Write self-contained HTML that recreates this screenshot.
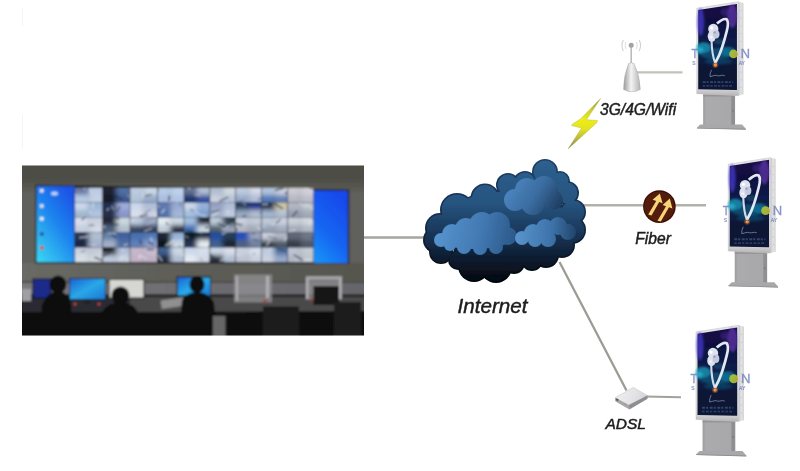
<!DOCTYPE html>
<html><head><meta charset="utf-8">
<style>
html,body{margin:0;padding:0;background:#fff;}
body{width:800px;height:471px;overflow:hidden;position:relative;font-family:"Liberation Sans",sans-serif;}
svg.main{position:absolute;left:0;top:0;}
</style></head>
<body>
<svg class="main" width="800" height="471" viewBox="0 0 800 471">
<defs>

<filter id="b05" x="-10%" y="-10%" width="120%" height="120%"><feGaussianBlur stdDeviation="0.5"/></filter>
<filter id="b1" x="-10%" y="-10%" width="120%" height="120%"><feGaussianBlur stdDeviation="0.7"/></filter>
<filter id="b2" x="-10%" y="-10%" width="120%" height="120%"><feGaussianBlur stdDeviation="1.1"/></filter>
<filter id="b3" x="-30%" y="-30%" width="160%" height="160%"><feGaussianBlur stdDeviation="2"/></filter>
<linearGradient id="lblue" x1="0" y1="0" x2="0.35" y2="1">
  <stop offset="0" stop-color="#1d5fe4"/><stop offset="0.55" stop-color="#2a8cf0"/><stop offset="1" stop-color="#55ccf0"/>
</linearGradient>
<linearGradient id="rblue" x1="0" y1="0" x2="0.2" y2="1">
  <stop offset="0" stop-color="#1a52de"/><stop offset="1" stop-color="#2a8af0"/>
</linearGradient>
<linearGradient id="mon2" x1="0" y1="0" x2="1" y2="1">
  <stop offset="0" stop-color="#1a64d4"/><stop offset="0.5" stop-color="#2aa8e8"/><stop offset="1" stop-color="#1a78d4"/>
</linearGradient>
<linearGradient id="scr" x1="0" y1="0" x2="0" y2="1">
  <stop offset="0" stop-color="#1a1048"/><stop offset="0.2" stop-color="#10103e"/><stop offset="0.42" stop-color="#0e1a48"/><stop offset="0.6" stop-color="#0c2044"/><stop offset="0.75" stop-color="#0a1634"/><stop offset="1" stop-color="#0a1430"/>
</linearGradient>
<linearGradient id="stand" x1="0" y1="0" x2="1" y2="0">
  <stop offset="0" stop-color="#9c9c9e"/><stop offset="0.1" stop-color="#ababad"/><stop offset="0.86" stop-color="#a8a8aa"/><stop offset="0.9" stop-color="#8e8e90"/><stop offset="1" stop-color="#909092"/>
</linearGradient>
<linearGradient id="frm" x1="0" y1="0" x2="0" y2="1">
  <stop offset="0" stop-color="#e4e4e6"/><stop offset="0.85" stop-color="#dcdcde"/><stop offset="0.94" stop-color="#cfcfd1"/><stop offset="1" stop-color="#b4b4b6"/>
</linearGradient>
<linearGradient id="side" x1="0" y1="0" x2="1" y2="0">
  <stop offset="0" stop-color="#c8c8ca"/><stop offset="0.5" stop-color="#e4e4e6"/><stop offset="1" stop-color="#cfcfd1"/>
</linearGradient>
<linearGradient id="bolt" gradientUnits="userSpaceOnUse" x1="0" y1="98" x2="0" y2="149">
  <stop offset="0" stop-color="#707a50"/><stop offset="0.22" stop-color="#c8cc30"/><stop offset="0.42" stop-color="#ecec18"/><stop offset="0.6" stop-color="#e4e420"/><stop offset="0.8" stop-color="#b8b840"/><stop offset="1" stop-color="#707060"/>
</linearGradient>
<linearGradient id="cone" x1="0" y1="0" x2="1" y2="0">
  <stop offset="0" stop-color="#9a9a9a"/><stop offset="0.45" stop-color="#f4f4f4"/><stop offset="1" stop-color="#b4b4b4"/>
</linearGradient>


<g id="kiosk">
  <rect x="6.5" y="86.5" width="32.4" height="33.5" fill="url(#stand)"/>
  <rect x="6.5" y="88" width="32.4" height="1.6" fill="#949496"/>
  <polygon points="42.3,-6.6 47.4,-5.4 47.4,87.4 42.3,88.8" fill="url(#side)"/>
  <line x1="44.9" y1="2" x2="44.9" y2="82" stroke="#a8a8ac" stroke-width="0.7" stroke-dasharray="0.8 7"/>
  <polygon points="0,0 42.3,-6.6 42.3,88.8 0,86.7" fill="url(#frm)"/>
  <polygon points="0,0 42.3,-6.6 42.3,88.8 0,86.7" fill="none" stroke="#c0c0c4" stroke-width="0.5"/>
  <polygon points="1.5,1.85 40.8,-4.4 40.8,83 1.5,82.3" fill="url(#scr)"/>
  <g filter="url(#b2)">
    <ellipse cx="4" cy="14" rx="3.5" ry="14" fill="#4a3ad8" opacity="0.7"/>
    <ellipse cx="36" cy="8" rx="5" ry="12" fill="#7a44cc" opacity="0.55"/>
    <ellipse cx="29" cy="4" rx="5" ry="4" fill="#4a2a9a" opacity="0.45"/>
    <ellipse cx="7" cy="40" rx="7.5" ry="5.5" fill="#1ea8c8" opacity="0.7"/>
    <ellipse cx="3.5" cy="43" rx="3.5" ry="3.5" fill="#28c4dc" opacity="0.6"/>
    <ellipse cx="31" cy="44" rx="8" ry="5" fill="#1a98b8" opacity="0.55"/>
    <ellipse cx="20" cy="46" rx="17" ry="6" fill="#1478a0" opacity="0.45"/><ellipse cx="22" cy="54" rx="14" ry="3" fill="#106a90" opacity="0.4"/>
    <ellipse cx="23" cy="34" rx="6" ry="3" fill="#12607e" opacity="0.5"/>
  </g>
  <g filter="url(#b05)">
    <path d="M15,32 C15.2,41 16.2,49.5 18.7,55.5" stroke="#d4dcea" stroke-width="2.1" fill="none"/>
    <path d="M20.5,15.5 C24,12.5 28,10 30.3,11.2 C32,13 31.8,18 30.5,23 C29,29 26,40 22.8,47.4 C21.5,50.5 20,53 18.7,55.5" stroke="#e2e8f4" stroke-width="2.7" fill="none"/>
    <g fill="#dde2ee">
      <ellipse cx="16.8" cy="21" rx="5.2" ry="5.2" />
      <ellipse cx="15.3" cy="28.5" rx="4.2" ry="5.5"/>
      <ellipse cx="19.8" cy="26.5" rx="3.3" ry="4.2" fill="#c4cadc"/>
    </g>
    <circle cx="15" cy="20" r="1.6" fill="#ffffff"/>
    <circle cx="18.2" cy="24.5" r="1.2" fill="#9aa2bc"/>
    <circle cx="14.6" cy="29.5" r="1.3" fill="#f4f6fa"/>
    <circle cx="18.9" cy="57.6" r="1.7" fill="#ff9040"/><circle cx="18.9" cy="57.6" r="3" fill="#ff9040" opacity="0.3"/>
    <path d="M15,62.5 q-2,4 -1.5,7 q3,-1 6,-1.5 q2,1 4,0.5 q3,-1 5,0" stroke="#8090b8" stroke-width="0.9" fill="none" opacity="0.85"/>
    <path d="M6,75 h31" stroke="#3c4c7c" stroke-width="2" stroke-dasharray="3 1 2 1.5" opacity="0.85"/>
    <path d="M6,78.8 h31" stroke="#34446e" stroke-width="1.8" stroke-dasharray="2.5 1.2 3 1" opacity="0.8"/>
  </g>
  <rect x="36.2" y="103" width="1" height="2" fill="#707070"/>
  <polygon points="3.5,118 46,118 49.8,122.3 49.8,123.2 0.2,121.8 0.2,121.2" fill="#a8a8aa"/>
  <polygon points="0.2,121.2 49.8,122.4 49.8,123.3 0.2,122" fill="#8e8e90"/>
  <g fill="#7482bc" stroke="#7482bc" stroke-width="0.35" opacity="0.85" font-family="Liberation Sans">
    <text x="0" y="0" font-size="13" transform="translate(-5.4 50.3) scale(0.85 1)">T</text>
    <text x="44.6" y="50.3" font-size="13">N</text>
    <text x="-4.6" y="57.5" font-size="5" stroke-width="0.2">S</text>
    <text x="42.6" y="57.5" font-size="5" stroke-width="0.2">AY</text>
  </g>
  <circle cx="37.3" cy="46.4" r="4.4" fill="#b0c438" opacity="0.9"/>
  <circle cx="40" cy="47" r="1.3" fill="#e09030" opacity="0.8"/>
</g>

<clipPath id="phclip"><rect x="22" y="165.6" width="342" height="170"/></clipPath>
<linearGradient id="topw" x1="0" y1="0" x2="0" y2="1"><stop offset="0" stop-color="#4a4a41"/><stop offset="0.7" stop-color="#4f4f47"/><stop offset="1" stop-color="#61615c"/></linearGradient>
<linearGradient id="wb1" gradientUnits="userSpaceOnUse" x1="22" y1="0" x2="364" y2="0"><stop offset="0" stop-color="#6a6a66"/><stop offset="0.45" stop-color="#5e5e58"/><stop offset="1" stop-color="#56574f"/></linearGradient>
<linearGradient id="wb2" gradientUnits="userSpaceOnUse" x1="22" y1="0" x2="364" y2="0"><stop offset="0" stop-color="#7a7a7c"/><stop offset="0.45" stop-color="#6e6e72"/><stop offset="1" stop-color="#65656c"/></linearGradient>
<linearGradient id="lb2" x1="0.8" y1="0" x2="0.1" y2="1"><stop offset="0" stop-color="#1c52e6"/><stop offset="0.45" stop-color="#1e84ee"/><stop offset="1" stop-color="#38d4f2"/></linearGradient>
<linearGradient id="rb2" x1="0.7" y1="0" x2="0.2" y2="1"><stop offset="0" stop-color="#1248ec"/><stop offset="0.6" stop-color="#1266f2"/><stop offset="1" stop-color="#1890f6"/></linearGradient>
<linearGradient id="cg" gradientUnits="userSpaceOnUse" x1="0" y1="160" x2="0" y2="283"><stop offset="0" stop-color="#2e5f8e"/><stop offset="0.35" stop-color="#27547f"/><stop offset="0.62" stop-color="#173354"/><stop offset="0.82" stop-color="#0c1a2c"/><stop offset="1" stop-color="#03070d"/></linearGradient><linearGradient id="cgr" gradientUnits="userSpaceOnUse" x1="0" y1="160" x2="0" y2="283"><stop offset="0" stop-color="#1c4064"/><stop offset="0.5" stop-color="#12294a"/><stop offset="1" stop-color="#010306"/></linearGradient><linearGradient id="pl" gradientUnits="userSpaceOnUse" x1="434" y1="228" x2="517" y2="245"><stop offset="0" stop-color="#5895d0"/><stop offset="0.55" stop-color="#4279b2"/><stop offset="1" stop-color="#2a5686"/></linearGradient><linearGradient id="pu" gradientUnits="userSpaceOnUse" x1="508" y1="182" x2="560" y2="215"><stop offset="0" stop-color="#4e88c2"/><stop offset="0.5" stop-color="#3a6ca0"/><stop offset="1" stop-color="#1a3556"/></linearGradient><linearGradient id="pr" gradientUnits="userSpaceOnUse" x1="516" y1="232" x2="576" y2="236"><stop offset="0" stop-color="#5894ce"/><stop offset="0.6" stop-color="#3d72a8"/><stop offset="1" stop-color="#22446a"/></linearGradient>
<linearGradient id="adt" gradientUnits="userSpaceOnUse" x1="615" y1="390" x2="648" y2="404"><stop offset="0" stop-color="#f0f0f2"/><stop offset="0.6" stop-color="#e2e2e4"/><stop offset="1" stop-color="#cfcfd2"/></linearGradient>
</defs>
<rect x="22" y="8" width="1" height="18" fill="#f5f5ec"/><rect x="22" y="115" width="1" height="33" fill="#f5f5ec"/>
<g filter="url(#b05)">
<line x1="364" y1="237.5" x2="425" y2="237.5" stroke="#a6a69e" stroke-width="2.6"/>
<line x1="580" y1="205.3" x2="706" y2="205.3" stroke="#b2b2aa" stroke-width="2.4"/>
<line x1="559.5" y1="262" x2="626.5" y2="390.5" stroke="#9c9c94" stroke-width="2.3"/>
<line x1="645" y1="396.5" x2="681" y2="397.3" stroke="#a2a29a" stroke-width="2.1"/>
<line x1="636" y1="72.3" x2="682.5" y2="72.3" stroke="#c2c2ba" stroke-width="2.2"/>
</g>
<g filter="url(#b05)"><g clip-path="url(#phclip)"><g filter="url(#b2)"><rect x="10" y="150" width="370" height="200" fill="#61615c"/><rect x="10" y="150" width="370" height="44" fill="url(#topw)"/><rect x="10" y="263" width="370" height="18.5" fill="url(#wb1)"/><rect x="10" y="281.5" width="370" height="1.6" fill="#4a4640"/><rect x="10" y="283" width="370" height="11" fill="url(#wb2)"/><rect x="10" y="294" width="370" height="2" fill="#303030"/><polygon points="35.3,184.8 349.3,189.6 349.3,263.8 35.3,263.5" fill="#1e1e24"/><rect x="36.5" y="186.2" width="38" height="76" fill="url(#lb2)"/><polygon points="313.6,190.5 347.8,190.7 347.8,262.9 313.6,262.9" fill="url(#rb2)"/><circle cx="41.8" cy="190.8" r="2" fill="#f0e8e0"/><circle cx="41.8" cy="206" r="2" fill="#e0e8f8"/><circle cx="41.8" cy="218.8" r="2" fill="#f0f4f8"/><circle cx="41.8" cy="234" r="2" fill="#30409a"/><circle cx="41.8" cy="247.7" r="2" fill="#e04a3a"/><ellipse cx="54.5" cy="193.5" rx="3.5" ry="2" fill="#d8e4f8" opacity="0.85"/><svg x="75" y="187.5" width="238.5" height="75" overflow="hidden"><g transform="translate(-75 -187.5)"><svg x="74.70" y="187.50" width="28.00" height="15.00" overflow="hidden"><g filter="url(#b3)" transform="translate(-74.70 -187.50)"><rect x="71.7" y="184.5" width="17.0" height="10.5" fill="#6878a0"/><rect x="88.7" y="184.5" width="17.0" height="10.5" fill="#becbe5"/><rect x="71.7" y="195.0" width="17.0" height="10.5" fill="#b7cbe5"/><rect x="88.7" y="195.0" width="17.0" height="10.5" fill="#c4d1e5"/></g><line x1="9.1" y1="2.3" x2="12.1" y2="-2.9" stroke="#e8eef6" stroke-width="1.2" opacity="0.6"/><line x1="1.6" y1="7.6" x2="-7.6" y2="6.8" stroke="#e8eef6" stroke-width="1.0" opacity="0.6"/><line x1="15.4" y1="0.9" x2="16.7" y2="6.3" stroke="#e8eef6" stroke-width="1.4" opacity="0.6"/></svg><svg x="74.70" y="202.50" width="28.00" height="15.00" overflow="hidden"><g filter="url(#b3)" transform="translate(-74.70 -202.50)"><rect x="71.7" y="199.5" width="17.0" height="10.5" fill="#cbd8ec"/><rect x="88.7" y="199.5" width="17.0" height="10.5" fill="#9fb7d8"/><rect x="71.7" y="210.0" width="17.0" height="10.5" fill="#a3b7d1"/><rect x="88.7" y="210.0" width="17.0" height="10.5" fill="#b1c4df"/></g><line x1="11.1" y1="14.6" x2="2.0" y2="18.9" stroke="#1a2030" stroke-width="1.2" opacity="0.6"/><line x1="15.1" y1="8.6" x2="16.3" y2="10.7" stroke="#e8eef6" stroke-width="1.4" opacity="0.6"/><line x1="17.9" y1="5.6" x2="18.8" y2="0.3" stroke="#e8eef6" stroke-width="1.4" opacity="0.6"/></svg><svg x="74.70" y="217.50" width="28.00" height="15.00" overflow="hidden"><g filter="url(#b3)" transform="translate(-74.70 -217.50)"><rect x="71.7" y="214.5" width="17.0" height="10.5" fill="#d8dfec"/><rect x="88.7" y="214.5" width="17.0" height="10.5" fill="#cbd1df"/><rect x="71.7" y="225.0" width="17.0" height="10.5" fill="#c4cedf"/><rect x="88.7" y="225.0" width="17.0" height="10.5" fill="#d1d8e5"/></g><line x1="13.9" y1="8.0" x2="19.4" y2="7.6" stroke="#202a40" stroke-width="1.2" opacity="0.6"/><line x1="7.0" y1="2.7" x2="12.6" y2="-2.3" stroke="#1a2030" stroke-width="1.3" opacity="0.6"/><line x1="24.5" y1="10.9" x2="20.3" y2="16.7" stroke="#e8eef6" stroke-width="1.3" opacity="0.6"/></svg><svg x="74.70" y="232.50" width="28.00" height="15.00" overflow="hidden"><g filter="url(#b3)" transform="translate(-74.70 -232.50)"><rect x="71.7" y="229.5" width="17.0" height="10.5" fill="#283651"/><rect x="88.7" y="229.5" width="17.0" height="10.5" fill="#b1bed1"/><rect x="71.7" y="240.0" width="17.0" height="10.5" fill="#1b2844"/><rect x="88.7" y="240.0" width="17.0" height="10.5" fill="#a3b1cb"/></g><line x1="4.6" y1="5.1" x2="13.3" y2="4.2" stroke="#e8eef6" stroke-width="1.6" opacity="0.6"/><line x1="16.0" y1="13.1" x2="12.3" y2="15.5" stroke="#202a40" stroke-width="1.4" opacity="0.6"/><line x1="12.8" y1="12.6" x2="21.7" y2="12.3" stroke="#e8eef6" stroke-width="0.9" opacity="0.6"/></svg><svg x="74.70" y="247.50" width="28.00" height="15.00" overflow="hidden"><g filter="url(#b3)" transform="translate(-74.70 -247.50)"><rect x="71.7" y="244.5" width="17.0" height="10.5" fill="#cbd1df"/><rect x="88.7" y="244.5" width="17.0" height="10.5" fill="#c4cbd8"/><rect x="71.7" y="255.0" width="17.0" height="10.5" fill="#d8dfe5"/><rect x="88.7" y="255.0" width="17.0" height="10.5" fill="#d1d8df"/></g><line x1="19.6" y1="9.7" x2="29.5" y2="13.6" stroke="#1a2030" stroke-width="1.5" opacity="0.6"/><line x1="24.8" y1="5.2" x2="33.7" y2="3.5" stroke="#e8eef6" stroke-width="1.3" opacity="0.6"/><line x1="6.1" y1="4.3" x2="10.9" y2="3.1" stroke="#202a40" stroke-width="0.9" opacity="0.6"/></svg><svg x="102.70" y="187.50" width="27.30" height="15.00" overflow="hidden"><g filter="url(#b3)" transform="translate(-102.70 -187.50)"><rect x="99.7" y="184.5" width="16.6" height="10.5" fill="#1b222f"/><rect x="116.3" y="184.5" width="16.7" height="10.5" fill="#5070a0"/><rect x="99.7" y="195.0" width="16.6" height="10.5" fill="#161b28"/><rect x="116.3" y="195.0" width="16.7" height="10.5" fill="#405890"/></g><line x1="12.3" y1="8.2" x2="19.9" y2="12.1" stroke="#1a2030" stroke-width="1.5" opacity="0.6"/><line x1="26.9" y1="10.2" x2="24.5" y2="7.0" stroke="#e8eef6" stroke-width="1.0" opacity="0.6"/><line x1="6.3" y1="3.5" x2="6.0" y2="4.6" stroke="#1a2030" stroke-width="1.1" opacity="0.6"/></svg><svg x="102.70" y="202.50" width="27.30" height="15.00" overflow="hidden"><g filter="url(#b3)" transform="translate(-102.70 -202.50)"><rect x="99.7" y="199.5" width="16.6" height="10.5" fill="#232f51"/><rect x="116.3" y="199.5" width="16.7" height="10.5" fill="#9daad8"/><rect x="99.7" y="210.0" width="16.6" height="10.5" fill="#282f4a"/><rect x="116.3" y="210.0" width="16.7" height="10.5" fill="#8996cb"/></g><line x1="4.0" y1="8.0" x2="6.2" y2="5.8" stroke="#e0e8f4" stroke-width="1.5" opacity="0.6"/><line x1="14.1" y1="9.3" x2="17.6" y2="3.9" stroke="#202a40" stroke-width="1.2" opacity="0.6"/><line x1="10.8" y1="7.2" x2="8.8" y2="3.5" stroke="#e0e8f4" stroke-width="1.2" opacity="0.6"/></svg><svg x="102.70" y="217.50" width="27.30" height="15.00" overflow="hidden"><g filter="url(#b3)" transform="translate(-102.70 -217.50)"><rect x="99.7" y="214.5" width="16.6" height="10.5" fill="#222836"/><rect x="116.3" y="214.5" width="16.7" height="10.5" fill="#cbd8df"/><rect x="99.7" y="225.0" width="16.6" height="10.5" fill="#506080"/><rect x="116.3" y="225.0" width="16.7" height="10.5" fill="#b1becb"/></g><line x1="3.0" y1="9.0" x2="-5.0" y2="9.8" stroke="#e8eef6" stroke-width="1.7" opacity="0.6"/><line x1="16.8" y1="1.1" x2="10.9" y2="-0.4" stroke="#1a2030" stroke-width="1.8" opacity="0.6"/><line x1="16.4" y1="7.1" x2="8.7" y2="7.0" stroke="#202a40" stroke-width="1.3" opacity="0.6"/></svg><svg x="102.70" y="232.50" width="27.30" height="15.00" overflow="hidden"><g filter="url(#b3)" transform="translate(-102.70 -232.50)"><rect x="99.7" y="229.5" width="16.6" height="10.5" fill="#6080a8"/><rect x="116.3" y="229.5" width="16.7" height="10.5" fill="#4060a0"/><rect x="99.7" y="240.0" width="16.6" height="10.5" fill="#a3b1cb"/><rect x="116.3" y="240.0" width="16.7" height="10.5" fill="#5070a0"/></g><line x1="8.5" y1="2.2" x2="13.5" y2="5.0" stroke="#202a40" stroke-width="1.6" opacity="0.6"/><line x1="4.4" y1="0.3" x2="13.4" y2="0.7" stroke="#e0e8f4" stroke-width="1.5" opacity="0.6"/><line x1="25.0" y1="11.4" x2="20.9" y2="13.1" stroke="#e8eef6" stroke-width="1.5" opacity="0.6"/></svg><svg x="102.70" y="247.50" width="27.30" height="15.00" overflow="hidden"><g filter="url(#b3)" transform="translate(-102.70 -247.50)"><rect x="99.7" y="244.5" width="16.6" height="10.5" fill="#1b2228"/><rect x="116.3" y="244.5" width="16.7" height="10.5" fill="#b1bed8"/><rect x="99.7" y="255.0" width="16.6" height="10.5" fill="#becbdf"/><rect x="116.3" y="255.0" width="16.7" height="10.5" fill="#cbd1df"/></g><line x1="7.1" y1="5.5" x2="0.5" y2="8.8" stroke="#1a2030" stroke-width="1.4" opacity="0.6"/><line x1="16.7" y1="11.8" x2="21.9" y2="8.2" stroke="#e0e8f4" stroke-width="1.6" opacity="0.6"/><line x1="20.2" y1="3.4" x2="20.6" y2="1.7" stroke="#e8eef6" stroke-width="1.8" opacity="0.6"/></svg><svg x="130.00" y="187.50" width="27.40" height="15.00" overflow="hidden"><g filter="url(#b3)" transform="translate(-130.00 -187.50)"><rect x="127.0" y="184.5" width="16.7" height="10.5" fill="#becbdf"/><rect x="143.7" y="184.5" width="16.7" height="10.5" fill="#cbd8e5"/><rect x="127.0" y="195.0" width="16.7" height="10.5" fill="#b1c4d8"/><rect x="143.7" y="195.0" width="16.7" height="10.5" fill="#96aacb"/></g><line x1="21.6" y1="7.1" x2="15.5" y2="8.3" stroke="#1a2030" stroke-width="1.2" opacity="0.6"/><line x1="25.7" y1="14.8" x2="34.8" y2="13.2" stroke="#e0e8f4" stroke-width="0.9" opacity="0.6"/><line x1="12.9" y1="5.1" x2="12.5" y2="10.9" stroke="#e8eef6" stroke-width="1.3" opacity="0.6"/></svg><svg x="130.00" y="202.50" width="27.40" height="15.00" overflow="hidden"><g filter="url(#b3)" transform="translate(-130.00 -202.50)"><rect x="127.0" y="199.5" width="16.7" height="10.5" fill="#cbd8ec"/><rect x="143.7" y="199.5" width="16.7" height="10.5" fill="#b1bed8"/><rect x="127.0" y="210.0" width="16.7" height="10.5" fill="#d8dfec"/><rect x="143.7" y="210.0" width="16.7" height="10.5" fill="#cbd1e5"/></g><line x1="17.9" y1="12.0" x2="9.6" y2="13.9" stroke="#202a40" stroke-width="1.6" opacity="0.6"/><line x1="20.6" y1="7.2" x2="14.1" y2="10.6" stroke="#1a2030" stroke-width="0.9" opacity="0.6"/><line x1="25.9" y1="10.8" x2="25.2" y2="13.7" stroke="#e8eef6" stroke-width="1.5" opacity="0.6"/></svg><svg x="130.00" y="217.50" width="27.40" height="15.00" overflow="hidden"><g filter="url(#b3)" transform="translate(-130.00 -217.50)"><rect x="127.0" y="214.5" width="16.7" height="10.5" fill="#becbdf"/><rect x="143.7" y="214.5" width="16.7" height="10.5" fill="#96a3be"/><rect x="127.0" y="225.0" width="16.7" height="10.5" fill="#36445f"/><rect x="143.7" y="225.0" width="16.7" height="10.5" fill="#313d58"/></g><line x1="4.7" y1="1.9" x2="-2.3" y2="6.8" stroke="#e0e8f4" stroke-width="1.4" opacity="0.6"/><line x1="16.3" y1="7.1" x2="25.1" y2="3.0" stroke="#e0e8f4" stroke-width="0.8" opacity="0.6"/><line x1="21.9" y1="10.9" x2="14.0" y2="13.9" stroke="#e0e8f4" stroke-width="1.2" opacity="0.6"/></svg><svg x="130.00" y="232.50" width="27.40" height="15.00" overflow="hidden"><g filter="url(#b3)" transform="translate(-130.00 -232.50)"><rect x="127.0" y="229.5" width="16.7" height="10.5" fill="#4870b0"/><rect x="143.7" y="229.5" width="16.7" height="10.5" fill="#5078b8"/><rect x="127.0" y="240.0" width="16.7" height="10.5" fill="#6080b8"/><rect x="143.7" y="240.0" width="16.7" height="10.5" fill="#899dcb"/></g><line x1="23.9" y1="12.4" x2="18.1" y2="9.4" stroke="#1a2030" stroke-width="1.3" opacity="0.6"/><line x1="20.9" y1="4.9" x2="21.8" y2="8.9" stroke="#e8eef6" stroke-width="1.7" opacity="0.6"/><line x1="9.7" y1="6.9" x2="11.4" y2="11.7" stroke="#202a40" stroke-width="1.6" opacity="0.6"/></svg><svg x="130.00" y="247.50" width="27.40" height="15.00" overflow="hidden"><g filter="url(#b3)" transform="translate(-130.00 -247.50)"><rect x="127.0" y="244.5" width="16.7" height="10.5" fill="#c4b7cb"/><rect x="143.7" y="244.5" width="16.7" height="10.5" fill="#cbbed1"/><rect x="127.0" y="255.0" width="16.7" height="10.5" fill="#c4b1c4"/><rect x="143.7" y="255.0" width="16.7" height="10.5" fill="#beb1c4"/></g><line x1="24.1" y1="2.0" x2="17.1" y2="2.1" stroke="#202a40" stroke-width="1.6" opacity="0.6"/><line x1="16.7" y1="11.6" x2="9.7" y2="7.3" stroke="#e8eef6" stroke-width="1.4" opacity="0.6"/><line x1="8.9" y1="7.8" x2="10.0" y2="11.2" stroke="#e8eef6" stroke-width="1.7" opacity="0.6"/></svg><svg x="157.40" y="187.50" width="26.60" height="15.00" overflow="hidden"><g filter="url(#b3)" transform="translate(-157.40 -187.50)"><rect x="154.4" y="184.5" width="16.3" height="10.5" fill="#b7cbe5"/><rect x="170.7" y="184.5" width="16.3" height="10.5" fill="#bed1ec"/><rect x="154.4" y="195.0" width="16.3" height="10.5" fill="#aabedf"/><rect x="170.7" y="195.0" width="16.3" height="10.5" fill="#b1c4e5"/></g><line x1="1.5" y1="2.9" x2="-7.6" y2="-2.0" stroke="#202a40" stroke-width="1.4" opacity="0.6"/><line x1="20.2" y1="13.7" x2="19.1" y2="15.0" stroke="#e0e8f4" stroke-width="1.5" opacity="0.6"/><line x1="12.0" y1="8.0" x2="11.6" y2="13.3" stroke="#1a2030" stroke-width="1.7" opacity="0.6"/></svg><svg x="157.40" y="202.50" width="26.60" height="15.00" overflow="hidden"><g filter="url(#b3)" transform="translate(-157.40 -202.50)"><rect x="154.4" y="199.5" width="16.3" height="10.5" fill="#6078b0"/><rect x="170.7" y="199.5" width="16.3" height="10.5" fill="#96aad1"/><rect x="154.4" y="210.0" width="16.3" height="10.5" fill="#5070a8"/><rect x="170.7" y="210.0" width="16.3" height="10.5" fill="#a3b7d8"/></g><line x1="23.7" y1="3.0" x2="22.7" y2="2.0" stroke="#202a40" stroke-width="1.2" opacity="0.6"/><line x1="1.9" y1="3.6" x2="-6.6" y2="5.6" stroke="#e8eef6" stroke-width="1.7" opacity="0.6"/><line x1="4.1" y1="10.7" x2="7.3" y2="6.5" stroke="#e0e8f4" stroke-width="1.8" opacity="0.6"/></svg><svg x="157.40" y="217.50" width="26.60" height="15.00" overflow="hidden"><g filter="url(#b3)" transform="translate(-157.40 -217.50)"><rect x="154.4" y="214.5" width="16.3" height="10.5" fill="#e5ecf2"/><rect x="170.7" y="214.5" width="16.3" height="10.5" fill="#cbd8e5"/><rect x="154.4" y="225.0" width="16.3" height="10.5" fill="#becbd8"/><rect x="170.7" y="225.0" width="16.3" height="10.5" fill="#282f3d"/></g><line x1="5.8" y1="14.3" x2="3.8" y2="14.1" stroke="#e0e8f4" stroke-width="1.0" opacity="0.6"/><line x1="11.5" y1="7.7" x2="8.3" y2="4.1" stroke="#1a2030" stroke-width="0.9" opacity="0.6"/><line x1="9.7" y1="5.1" x2="8.9" y2="7.5" stroke="#202a40" stroke-width="1.1" opacity="0.6"/></svg><svg x="157.40" y="232.50" width="26.60" height="15.00" overflow="hidden"><g filter="url(#b3)" transform="translate(-157.40 -232.50)"><rect x="154.4" y="229.5" width="16.3" height="10.5" fill="#1b2836"/><rect x="170.7" y="229.5" width="16.3" height="10.5" fill="#96b1d8"/><rect x="154.4" y="240.0" width="16.3" height="10.5" fill="#0d141b"/><rect x="170.7" y="240.0" width="16.3" height="10.5" fill="#cbd8e5"/></g><line x1="16.6" y1="7.7" x2="7.9" y2="13.5" stroke="#e0e8f4" stroke-width="1.8" opacity="0.6"/><line x1="2.8" y1="4.0" x2="-6.4" y2="7.3" stroke="#1a2030" stroke-width="1.6" opacity="0.6"/><line x1="21.8" y1="12.7" x2="25.3" y2="18.1" stroke="#202a40" stroke-width="0.9" opacity="0.6"/></svg><svg x="157.40" y="247.50" width="26.60" height="15.00" overflow="hidden"><g filter="url(#b3)" transform="translate(-157.40 -247.50)"><rect x="154.4" y="244.5" width="16.3" height="10.5" fill="#406090"/><rect x="170.7" y="244.5" width="16.3" height="10.5" fill="#cbd8e5"/><rect x="154.4" y="255.0" width="16.3" height="10.5" fill="#1b283d"/><rect x="170.7" y="255.0" width="16.3" height="10.5" fill="#b1bed1"/></g><line x1="24.4" y1="8.6" x2="28.5" y2="3.6" stroke="#e8eef6" stroke-width="1.6" opacity="0.6"/><line x1="4.9" y1="13.4" x2="0.3" y2="7.6" stroke="#e8eef6" stroke-width="1.6" opacity="0.6"/><line x1="2.2" y1="12.8" x2="-6.4" y2="17.2" stroke="#202a40" stroke-width="0.8" opacity="0.6"/></svg><svg x="184.00" y="187.50" width="25.80" height="15.00" overflow="hidden"><g filter="url(#b3)" transform="translate(-184.00 -187.50)"><rect x="181.0" y="184.5" width="15.9" height="10.5" fill="#607090"/><rect x="196.9" y="184.5" width="15.9" height="10.5" fill="#b1bed1"/><rect x="181.0" y="195.0" width="15.9" height="10.5" fill="#1b366c"/><rect x="196.9" y="195.0" width="15.9" height="10.5" fill="#3050a0"/></g><line x1="25.7" y1="6.3" x2="34.0" y2="7.7" stroke="#e8eef6" stroke-width="1.3" opacity="0.6"/><line x1="6.2" y1="1.6" x2="-0.6" y2="-3.8" stroke="#e0e8f4" stroke-width="1.7" opacity="0.6"/><line x1="16.2" y1="8.0" x2="10.3" y2="7.3" stroke="#e0e8f4" stroke-width="1.1" opacity="0.6"/></svg><svg x="184.00" y="202.50" width="25.80" height="15.00" overflow="hidden"><g filter="url(#b3)" transform="translate(-184.00 -202.50)"><rect x="181.0" y="199.5" width="15.9" height="10.5" fill="#cbd8ec"/><rect x="196.9" y="199.5" width="15.9" height="10.5" fill="#96b1d8"/><rect x="181.0" y="210.0" width="15.9" height="10.5" fill="#a3bedf"/><rect x="196.9" y="210.0" width="15.9" height="10.5" fill="#7c9dcb"/></g><line x1="20.7" y1="14.9" x2="11.5" y2="9.1" stroke="#e0e8f4" stroke-width="1.3" opacity="0.6"/><line x1="6.3" y1="6.7" x2="9.5" y2="8.5" stroke="#202a40" stroke-width="1.3" opacity="0.6"/><line x1="22.9" y1="14.6" x2="19.1" y2="11.1" stroke="#e0e8f4" stroke-width="1.1" opacity="0.6"/></svg><svg x="184.00" y="217.50" width="25.80" height="15.00" overflow="hidden"><g filter="url(#b3)" transform="translate(-184.00 -217.50)"><rect x="181.0" y="214.5" width="15.9" height="10.5" fill="#a3bedf"/><rect x="196.9" y="214.5" width="15.9" height="10.5" fill="#1b2836"/><rect x="181.0" y="225.0" width="15.9" height="10.5" fill="#4070b0"/><rect x="196.9" y="225.0" width="15.9" height="10.5" fill="#cbd8e5"/></g><line x1="21.5" y1="10.6" x2="24.2" y2="9.5" stroke="#1a2030" stroke-width="1.8" opacity="0.6"/><line x1="21.6" y1="0.2" x2="24.1" y2="4.8" stroke="#202a40" stroke-width="1.0" opacity="0.6"/><line x1="2.2" y1="12.6" x2="9.6" y2="14.7" stroke="#1a2030" stroke-width="1.4" opacity="0.6"/></svg><svg x="184.00" y="232.50" width="25.80" height="15.00" overflow="hidden"><g filter="url(#b3)" transform="translate(-184.00 -232.50)"><rect x="181.0" y="229.5" width="15.9" height="10.5" fill="#0d1b28"/><rect x="196.9" y="229.5" width="15.9" height="10.5" fill="#1b2f44"/><rect x="181.0" y="240.0" width="15.9" height="10.5" fill="#283651"/><rect x="196.9" y="240.0" width="15.9" height="10.5" fill="#e5ecf2"/></g><line x1="17.9" y1="0.7" x2="11.6" y2="-2.1" stroke="#e8eef6" stroke-width="1.1" opacity="0.6"/><line x1="24.8" y1="14.6" x2="25.8" y2="11.5" stroke="#1a2030" stroke-width="1.0" opacity="0.6"/><line x1="4.7" y1="5.0" x2="-3.6" y2="2.4" stroke="#e0e8f4" stroke-width="1.0" opacity="0.6"/></svg><svg x="184.00" y="247.50" width="25.80" height="15.00" overflow="hidden"><g filter="url(#b3)" transform="translate(-184.00 -247.50)"><rect x="181.0" y="244.5" width="15.9" height="10.5" fill="#cbd8ec"/><rect x="196.9" y="244.5" width="15.9" height="10.5" fill="#d8dfec"/><rect x="181.0" y="255.0" width="15.9" height="10.5" fill="#e5ecf2"/><rect x="196.9" y="255.0" width="15.9" height="10.5" fill="#d1d8e5"/></g><line x1="20.0" y1="1.4" x2="26.4" y2="-2.9" stroke="#e8eef6" stroke-width="1.2" opacity="0.6"/><line x1="7.7" y1="9.4" x2="-0.6" y2="14.9" stroke="#e0e8f4" stroke-width="1.5" opacity="0.6"/><line x1="18.5" y1="13.2" x2="16.3" y2="11.1" stroke="#202a40" stroke-width="0.9" opacity="0.6"/></svg><svg x="209.80" y="187.50" width="25.80" height="15.00" overflow="hidden"><g filter="url(#b3)" transform="translate(-209.80 -187.50)"><rect x="206.8" y="184.5" width="15.9" height="10.5" fill="#b1bed1"/><rect x="222.7" y="184.5" width="15.9" height="10.5" fill="#d1d8df"/><rect x="206.8" y="195.0" width="15.9" height="10.5" fill="#cbd1df"/><rect x="222.7" y="195.0" width="15.9" height="10.5" fill="#b7c4d8"/></g><line x1="18.7" y1="9.6" x2="9.6" y2="13.7" stroke="#202a40" stroke-width="1.5" opacity="0.6"/><line x1="21.0" y1="2.1" x2="21.4" y2="2.1" stroke="#e8eef6" stroke-width="1.6" opacity="0.6"/><line x1="15.1" y1="13.4" x2="18.7" y2="15.7" stroke="#e0e8f4" stroke-width="0.9" opacity="0.6"/></svg><svg x="209.80" y="202.50" width="25.80" height="15.00" overflow="hidden"><g filter="url(#b3)" transform="translate(-209.80 -202.50)"><rect x="206.8" y="199.5" width="15.9" height="10.5" fill="#96a3c4"/><rect x="222.7" y="199.5" width="15.9" height="10.5" fill="#b1bed8"/><rect x="206.8" y="210.0" width="15.9" height="10.5" fill="#a3b1cb"/><rect x="222.7" y="210.0" width="15.9" height="10.5" fill="#becbdf"/></g><line x1="1.1" y1="9.6" x2="10.3" y2="8.1" stroke="#202a40" stroke-width="1.4" opacity="0.6"/><line x1="16.2" y1="9.4" x2="19.8" y2="9.3" stroke="#e8eef6" stroke-width="1.3" opacity="0.6"/><line x1="1.8" y1="14.0" x2="9.8" y2="9.1" stroke="#e8eef6" stroke-width="1.5" opacity="0.6"/></svg><svg x="209.80" y="217.50" width="25.80" height="15.00" overflow="hidden"><g filter="url(#b3)" transform="translate(-209.80 -217.50)"><rect x="206.8" y="214.5" width="15.9" height="10.5" fill="#becbd8"/><rect x="222.7" y="214.5" width="15.9" height="10.5" fill="#364451"/><rect x="206.8" y="225.0" width="15.9" height="10.5" fill="#506070"/><rect x="222.7" y="225.0" width="15.9" height="10.5" fill="#96a3b7"/></g><line x1="12.2" y1="12.1" x2="19.1" y2="9.0" stroke="#e0e8f4" stroke-width="1.0" opacity="0.6"/><line x1="16.8" y1="6.9" x2="23.7" y2="1.8" stroke="#1a2030" stroke-width="1.6" opacity="0.6"/><line x1="15.9" y1="9.6" x2="7.5" y2="5.4" stroke="#1a2030" stroke-width="1.5" opacity="0.6"/></svg><svg x="209.80" y="232.50" width="25.80" height="15.00" overflow="hidden"><g filter="url(#b3)" transform="translate(-209.80 -232.50)"><rect x="206.8" y="229.5" width="15.9" height="10.5" fill="#2050a0"/><rect x="222.7" y="229.5" width="15.9" height="10.5" fill="#283d58"/><rect x="206.8" y="240.0" width="15.9" height="10.5" fill="#406090"/><rect x="222.7" y="240.0" width="15.9" height="10.5" fill="#1b2836"/></g><line x1="17.9" y1="9.3" x2="10.5" y2="9.1" stroke="#202a40" stroke-width="1.1" opacity="0.6"/><line x1="17.3" y1="10.4" x2="20.9" y2="7.9" stroke="#1a2030" stroke-width="1.3" opacity="0.6"/><line x1="12.0" y1="1.8" x2="19.9" y2="-1.8" stroke="#e8eef6" stroke-width="1.7" opacity="0.6"/></svg><svg x="209.80" y="247.50" width="25.80" height="15.00" overflow="hidden"><g filter="url(#b3)" transform="translate(-209.80 -247.50)"><rect x="206.8" y="244.5" width="15.9" height="10.5" fill="#cbd8e5"/><rect x="222.7" y="244.5" width="15.9" height="10.5" fill="#d8dfec"/><rect x="206.8" y="255.0" width="15.9" height="10.5" fill="#282f3d"/><rect x="222.7" y="255.0" width="15.9" height="10.5" fill="#b1bed1"/></g><line x1="0.5" y1="6.9" x2="6.8" y2="12.5" stroke="#202a40" stroke-width="1.8" opacity="0.6"/><line x1="10.0" y1="13.7" x2="18.6" y2="8.6" stroke="#e8eef6" stroke-width="0.9" opacity="0.6"/><line x1="13.5" y1="14.3" x2="6.2" y2="18.1" stroke="#1a2030" stroke-width="1.7" opacity="0.6"/></svg><svg x="235.60" y="187.50" width="26.00" height="15.00" overflow="hidden"><g filter="url(#b3)" transform="translate(-235.60 -187.50)"><rect x="232.6" y="184.5" width="16.0" height="10.5" fill="#becbdf"/><rect x="248.6" y="184.5" width="16.0" height="10.5" fill="#d1d8e5"/><rect x="232.6" y="195.0" width="16.0" height="10.5" fill="#96aacb"/><rect x="248.6" y="195.0" width="16.0" height="10.5" fill="#b1bed8"/></g><line x1="18.3" y1="3.5" x2="26.2" y2="3.3" stroke="#e8eef6" stroke-width="1.0" opacity="0.6"/><line x1="24.7" y1="10.2" x2="22.8" y2="13.0" stroke="#202a40" stroke-width="1.1" opacity="0.6"/><line x1="8.2" y1="12.6" x2="-1.7" y2="15.6" stroke="#202a40" stroke-width="0.9" opacity="0.6"/></svg><svg x="235.60" y="202.50" width="26.00" height="15.00" overflow="hidden"><g filter="url(#b3)" transform="translate(-235.60 -202.50)"><rect x="232.6" y="199.5" width="16.0" height="10.5" fill="#283d5f"/><rect x="248.6" y="199.5" width="16.0" height="10.5" fill="#1b3688"/><rect x="232.6" y="210.0" width="16.0" height="10.5" fill="#96aac4"/><rect x="248.6" y="210.0" width="16.0" height="10.5" fill="#b1bed1"/></g><line x1="24.1" y1="10.7" x2="32.1" y2="8.2" stroke="#1a2030" stroke-width="0.9" opacity="0.6"/><line x1="10.1" y1="13.0" x2="1.7" y2="18.2" stroke="#1a2030" stroke-width="1.7" opacity="0.6"/><line x1="7.3" y1="0.8" x2="10.5" y2="2.4" stroke="#e0e8f4" stroke-width="1.0" opacity="0.6"/></svg><svg x="235.60" y="217.50" width="26.00" height="15.00" overflow="hidden"><g filter="url(#b3)" transform="translate(-235.60 -217.50)"><rect x="232.6" y="214.5" width="16.0" height="10.5" fill="#cbd1df"/><rect x="248.6" y="214.5" width="16.0" height="10.5" fill="#c4cbd8"/><rect x="232.6" y="225.0" width="16.0" height="10.5" fill="#b1b7c4"/><rect x="248.6" y="225.0" width="16.0" height="10.5" fill="#a3aab7"/></g><line x1="6.9" y1="7.7" x2="0.7" y2="6.1" stroke="#202a40" stroke-width="1.7" opacity="0.6"/><line x1="21.1" y1="9.5" x2="29.4" y2="14.8" stroke="#e0e8f4" stroke-width="1.5" opacity="0.6"/><line x1="1.3" y1="11.0" x2="0.3" y2="14.0" stroke="#1a2030" stroke-width="1.3" opacity="0.6"/></svg><svg x="235.60" y="232.50" width="26.00" height="15.00" overflow="hidden"><g filter="url(#b3)" transform="translate(-235.60 -232.50)"><rect x="232.6" y="229.5" width="16.0" height="10.5" fill="#2050c0"/><rect x="248.6" y="229.5" width="16.0" height="10.5" fill="#96a3be"/><rect x="232.6" y="240.0" width="16.0" height="10.5" fill="#506080"/><rect x="248.6" y="240.0" width="16.0" height="10.5" fill="#7080a0"/></g><line x1="23.7" y1="8.3" x2="17.1" y2="7.2" stroke="#1a2030" stroke-width="1.1" opacity="0.6"/><line x1="19.2" y1="14.6" x2="14.4" y2="16.5" stroke="#1a2030" stroke-width="1.3" opacity="0.6"/><line x1="17.4" y1="1.8" x2="20.3" y2="-3.3" stroke="#202a40" stroke-width="1.4" opacity="0.6"/></svg><svg x="235.60" y="247.50" width="26.00" height="15.00" overflow="hidden"><g filter="url(#b3)" transform="translate(-235.60 -247.50)"><rect x="232.6" y="244.5" width="16.0" height="10.5" fill="#cbd1df"/><rect x="248.6" y="244.5" width="16.0" height="10.5" fill="#d8dfec"/><rect x="232.6" y="255.0" width="16.0" height="10.5" fill="#bec4d1"/><rect x="248.6" y="255.0" width="16.0" height="10.5" fill="#cbd1df"/></g><line x1="11.8" y1="5.0" x2="17.0" y2="4.1" stroke="#e0e8f4" stroke-width="1.0" opacity="0.6"/><line x1="4.5" y1="8.3" x2="0.9" y2="6.8" stroke="#e0e8f4" stroke-width="1.7" opacity="0.6"/><line x1="19.5" y1="6.2" x2="17.8" y2="6.5" stroke="#202a40" stroke-width="1.1" opacity="0.6"/></svg><svg x="261.60" y="187.50" width="26.00" height="15.00" overflow="hidden"><g filter="url(#b3)" transform="translate(-261.60 -187.50)"><rect x="258.6" y="184.5" width="16.0" height="10.5" fill="#b1c4df"/><rect x="274.6" y="184.5" width="16.0" height="10.5" fill="#cbd1df"/><rect x="258.6" y="195.0" width="16.0" height="10.5" fill="#5078b8"/><rect x="274.6" y="195.0" width="16.0" height="10.5" fill="#6080b8"/></g><line x1="19.6" y1="7.5" x2="21.0" y2="5.8" stroke="#e0e8f4" stroke-width="0.9" opacity="0.6"/><line x1="23.3" y1="5.8" x2="26.2" y2="5.0" stroke="#1a2030" stroke-width="1.6" opacity="0.6"/><line x1="22.7" y1="0.3" x2="13.3" y2="2.8" stroke="#202a40" stroke-width="1.8" opacity="0.6"/></svg><svg x="261.60" y="202.50" width="26.00" height="15.00" overflow="hidden"><g filter="url(#b3)" transform="translate(-261.60 -202.50)"><rect x="258.6" y="199.5" width="16.0" height="10.5" fill="#1b2844"/><rect x="274.6" y="199.5" width="16.0" height="10.5" fill="#cbc4a3"/><rect x="258.6" y="210.0" width="16.0" height="10.5" fill="#a3b7d1"/><rect x="274.6" y="210.0" width="16.0" height="10.5" fill="#b1bed1"/></g><line x1="12.7" y1="1.1" x2="21.3" y2="6.2" stroke="#202a40" stroke-width="1.8" opacity="0.6"/><line x1="6.5" y1="1.6" x2="-0.5" y2="1.9" stroke="#e8eef6" stroke-width="1.7" opacity="0.6"/><line x1="18.8" y1="9.7" x2="24.1" y2="9.2" stroke="#e8eef6" stroke-width="0.8" opacity="0.6"/></svg><svg x="261.60" y="217.50" width="26.00" height="15.00" overflow="hidden"><g filter="url(#b3)" transform="translate(-261.60 -217.50)"><rect x="258.6" y="214.5" width="16.0" height="10.5" fill="#becbd8"/><rect x="274.6" y="214.5" width="16.0" height="10.5" fill="#cbd1df"/><rect x="258.6" y="225.0" width="16.0" height="10.5" fill="#96a3b7"/><rect x="274.6" y="225.0" width="16.0" height="10.5" fill="#a3aabe"/></g><line x1="3.3" y1="8.5" x2="-6.0" y2="11.1" stroke="#e0e8f4" stroke-width="1.4" opacity="0.6"/><line x1="13.7" y1="6.6" x2="19.0" y2="1.8" stroke="#1a2030" stroke-width="1.3" opacity="0.6"/><line x1="15.2" y1="5.8" x2="9.6" y2="7.0" stroke="#e8eef6" stroke-width="1.3" opacity="0.6"/></svg><svg x="261.60" y="232.50" width="26.00" height="15.00" overflow="hidden"><g filter="url(#b3)" transform="translate(-261.60 -232.50)"><rect x="258.6" y="229.5" width="16.0" height="10.5" fill="#cbd1df"/><rect x="274.6" y="229.5" width="16.0" height="10.5" fill="#b1b7c4"/><rect x="258.6" y="240.0" width="16.0" height="10.5" fill="#363d4a"/><rect x="274.6" y="240.0" width="16.0" height="10.5" fill="#505868"/></g><line x1="25.9" y1="4.2" x2="22.2" y2="8.3" stroke="#e0e8f4" stroke-width="1.3" opacity="0.6"/><line x1="6.1" y1="3.7" x2="15.3" y2="6.2" stroke="#1a2030" stroke-width="0.9" opacity="0.6"/><line x1="5.0" y1="13.3" x2="8.0" y2="8.2" stroke="#e0e8f4" stroke-width="1.5" opacity="0.6"/></svg><svg x="261.60" y="247.50" width="26.00" height="15.00" overflow="hidden"><g filter="url(#b3)" transform="translate(-261.60 -247.50)"><rect x="258.6" y="244.5" width="16.0" height="10.5" fill="#becbdf"/><rect x="274.6" y="244.5" width="16.0" height="10.5" fill="#5070a0"/><rect x="258.6" y="255.0" width="16.0" height="10.5" fill="#cbd1df"/><rect x="274.6" y="255.0" width="16.0" height="10.5" fill="#96aacb"/></g><line x1="24.1" y1="3.4" x2="14.7" y2="1.5" stroke="#202a40" stroke-width="1.2" opacity="0.6"/><line x1="10.3" y1="0.1" x2="6.1" y2="4.2" stroke="#e8eef6" stroke-width="1.0" opacity="0.6"/><line x1="25.2" y1="4.7" x2="31.6" y2="1.4" stroke="#e0e8f4" stroke-width="1.1" opacity="0.6"/></svg><svg x="287.60" y="187.50" width="26.00" height="15.00" overflow="hidden"><g filter="url(#b3)" transform="translate(-287.60 -187.50)"><rect x="284.6" y="184.5" width="16.0" height="10.5" fill="#cbcbd1"/><rect x="300.6" y="184.5" width="16.0" height="10.5" fill="#d1d1d8"/><rect x="284.6" y="195.0" width="16.0" height="10.5" fill="#b7b7c4"/><rect x="300.6" y="195.0" width="16.0" height="10.5" fill="#bebecb"/></g><line x1="23.1" y1="1.6" x2="25.6" y2="3.0" stroke="#e0e8f4" stroke-width="1.3" opacity="0.6"/><line x1="23.7" y1="0.8" x2="25.6" y2="5.9" stroke="#e8eef6" stroke-width="1.0" opacity="0.6"/><line x1="25.3" y1="2.1" x2="16.4" y2="-3.1" stroke="#202a40" stroke-width="1.2" opacity="0.6"/></svg><svg x="287.60" y="202.50" width="26.00" height="15.00" overflow="hidden"><g filter="url(#b3)" transform="translate(-287.60 -202.50)"><rect x="284.6" y="199.5" width="16.0" height="10.5" fill="#b1b7c4"/><rect x="300.6" y="199.5" width="16.0" height="10.5" fill="#bec4cb"/><rect x="284.6" y="210.0" width="16.0" height="10.5" fill="#969db1"/><rect x="300.6" y="210.0" width="16.0" height="10.5" fill="#a3aab7"/></g><line x1="18.5" y1="4.7" x2="10.8" y2="-0.3" stroke="#e0e8f4" stroke-width="1.1" opacity="0.6"/><line x1="4.8" y1="14.0" x2="9.7" y2="8.4" stroke="#202a40" stroke-width="1.6" opacity="0.6"/><line x1="25.6" y1="6.6" x2="17.8" y2="1.6" stroke="#e8eef6" stroke-width="1.2" opacity="0.6"/></svg><svg x="287.60" y="217.50" width="26.00" height="15.00" overflow="hidden"><g filter="url(#b3)" transform="translate(-287.60 -217.50)"><rect x="284.6" y="214.5" width="16.0" height="10.5" fill="#cbd1d8"/><rect x="300.6" y="214.5" width="16.0" height="10.5" fill="#d1d8df"/><rect x="284.6" y="225.0" width="16.0" height="10.5" fill="#a3aab7"/><rect x="300.6" y="225.0" width="16.0" height="10.5" fill="#b1b7c4"/></g><line x1="24.8" y1="1.9" x2="34.1" y2="-1.7" stroke="#1a2030" stroke-width="1.6" opacity="0.6"/><line x1="8.0" y1="12.1" x2="-0.2" y2="14.5" stroke="#e0e8f4" stroke-width="1.2" opacity="0.6"/><line x1="23.9" y1="2.9" x2="21.2" y2="7.7" stroke="#e8eef6" stroke-width="1.4" opacity="0.6"/></svg><svg x="287.60" y="232.50" width="26.00" height="15.00" overflow="hidden"><g filter="url(#b3)" transform="translate(-287.60 -232.50)"><rect x="284.6" y="229.5" width="16.0" height="10.5" fill="#606878"/><rect x="300.6" y="229.5" width="16.0" height="10.5" fill="#707888"/><rect x="284.6" y="240.0" width="16.0" height="10.5" fill="#363d4a"/><rect x="300.6" y="240.0" width="16.0" height="10.5" fill="#505868"/></g><line x1="6.4" y1="9.4" x2="4.5" y2="7.9" stroke="#202a40" stroke-width="0.9" opacity="0.6"/><line x1="23.9" y1="3.9" x2="28.9" y2="8.6" stroke="#1a2030" stroke-width="1.2" opacity="0.6"/><line x1="8.7" y1="14.3" x2="-0.4" y2="17.3" stroke="#1a2030" stroke-width="1.7" opacity="0.6"/></svg><svg x="287.60" y="247.50" width="26.00" height="15.00" overflow="hidden"><g filter="url(#b3)" transform="translate(-287.60 -247.50)"><rect x="284.6" y="244.5" width="16.0" height="10.5" fill="#bec4d1"/><rect x="300.6" y="244.5" width="16.0" height="10.5" fill="#c4cbd1"/><rect x="284.6" y="255.0" width="16.0" height="10.5" fill="#b1b7c4"/><rect x="300.6" y="255.0" width="16.0" height="10.5" fill="#bec4cb"/></g><line x1="7.7" y1="10.8" x2="9.6" y2="14.5" stroke="#e8eef6" stroke-width="0.8" opacity="0.6"/><line x1="6.1" y1="7.1" x2="15.2" y2="12.6" stroke="#202a40" stroke-width="1.6" opacity="0.6"/><line x1="23.8" y1="12.2" x2="16.4" y2="12.2" stroke="#e8eef6" stroke-width="1.6" opacity="0.6"/></svg><rect x="102.3" y="187" width="0.8" height="75.5" fill="#1a1a22" opacity="0.5"/><rect x="129.6" y="187" width="0.8" height="75.5" fill="#1a1a22" opacity="0.5"/><rect x="157.0" y="187" width="0.8" height="75.5" fill="#1a1a22" opacity="0.5"/><rect x="183.6" y="187" width="0.8" height="75.5" fill="#1a1a22" opacity="0.5"/><rect x="209.4" y="187" width="0.8" height="75.5" fill="#1a1a22" opacity="0.5"/><rect x="235.2" y="187" width="0.8" height="75.5" fill="#1a1a22" opacity="0.5"/><rect x="261.2" y="187" width="0.8" height="75.5" fill="#1a1a22" opacity="0.5"/><rect x="287.2" y="187" width="0.8" height="75.5" fill="#1a1a22" opacity="0.5"/></g></svg><rect x="10" y="296" width="370" height="50" fill="#0e0e0e"/><polygon points="130,297 380,297 380,311 130,312" fill="#4a4a48"/><polygon points="22,297 130,297 130,312 22,312" fill="#2a2a32"/><rect x="10" y="312" width="370" height="30" fill="#0a0a0a"/><rect x="22" y="289" width="9" height="12" fill="#a0a0a4"/><rect x="32.5" y="278.5" width="19" height="20.5" fill="#111"/><rect x="33.5" y="279.3" width="17" height="18.5" fill="#1c2c8a"/><rect x="69" y="278" width="37" height="22" fill="#111"/><rect x="70" y="279" width="35" height="20" fill="url(#mon2)"/><rect x="84" y="300" width="6" height="4" fill="#222"/><rect x="108.5" y="279" width="36" height="20" fill="#222"/><rect x="109.5" y="280" width="34" height="17.5" fill="#d6d6d2"/><rect x="176.5" y="276.5" width="34.5" height="20" fill="#111"/><rect x="177.5" y="277.5" width="32.5" height="18" fill="url(#mon2)"/><rect x="234" y="274.5" width="38" height="28" fill="#929296" opacity="0.75"/><rect x="236" y="276" width="2" height="25" fill="#b0b0b4"/><rect x="266" y="276" width="3" height="22" fill="#b0b0b4"/><rect x="306" y="276.5" width="36" height="23" fill="#8e8e92" opacity="0.75"/><rect x="306" y="277" width="2.5" height="22" fill="#b0b0b4"/><rect x="339" y="277" width="2.5" height="22" fill="#b0b0b4"/><rect x="306" y="276.5" width="36" height="2.5" fill="#aaaaae"/><rect x="313.5" y="286" width="25.5" height="19" fill="#121212"/><rect x="161" y="299" width="23" height="8.5" fill="#909092" transform="rotate(-8 172 303)"/><circle cx="75" cy="304" r="1.6" fill="#c04040"/><circle cx="99" cy="304" r="1.6" fill="#c04040"/><circle cx="265" cy="301" r="1.6" fill="#b03030"/><circle cx="312" cy="300" r="1.4" fill="#a03030"/><g fill="#0c0c0e"><ellipse cx="58" cy="284.5" rx="8.5" ry="9"/><path d="M40,336 L42,305 Q47,292 58,291 Q69,292 71,305 L73,336 Z"/><ellipse cx="120.5" cy="295.5" rx="9" ry="9"/><path d="M98,336 L102,312 Q109,302 121,302 Q134,303 139,314 L142,336 Z"/><ellipse cx="197" cy="284.5" rx="7.5" ry="8.5"/><path d="M179,336 L182,300 Q187,292 198,292 Q210,293 214,303 L217,336 Z"/></g><rect x="263" y="306.5" width="36" height="30" fill="#1c1c1e"/><rect x="334" y="302" width="27" height="34" fill="#1c1c1e"/><rect x="213" y="316" width="12.5" height="20" fill="#666"/></g></g></g>
<rect x="22" y="335" width="342" height="0" fill="none"/>
<g filter="url(#b1)">
<g fill="url(#cgr)"><circle cx="545" cy="172" r="13"/><circle cx="525" cy="183" r="12"/><circle cx="508" cy="185" r="12"/><circle cx="485" cy="198" r="14.5"/><circle cx="457" cy="210" r="17"/><circle cx="440" cy="228" r="15"/><circle cx="436" cy="240" r="13"/><circle cx="441" cy="252" r="12"/><circle cx="458" cy="260" r="10"/><circle cx="474" cy="266" r="16"/><circle cx="496" cy="267" r="16"/><circle cx="514" cy="263" r="11"/><circle cx="532" cy="260" r="11"/><circle cx="546" cy="255" r="13"/><circle cx="562" cy="245" r="13"/><circle cx="572" cy="230" r="14"/><circle cx="573" cy="212" r="13"/><circle cx="567" cy="193" r="12"/><circle cx="560" cy="181" r="10"/><circle cx="540" cy="205" r="22"/><circle cx="520" cy="200" r="16"/><circle cx="560" cy="222" r="16"/><ellipse cx="505" cy="228" rx="64" ry="38"/></g>
<g fill="url(#cg)"><circle cx="545" cy="172" r="11.4"/><circle cx="525" cy="183" r="10.4"/><circle cx="508" cy="185" r="10.4"/><circle cx="485" cy="198" r="12.9"/><circle cx="457" cy="210" r="15.4"/><circle cx="440" cy="228" r="13.4"/><circle cx="436" cy="240" r="11.4"/><circle cx="441" cy="252" r="10.4"/><circle cx="458" cy="260" r="8.4"/><circle cx="474" cy="266" r="14.4"/><circle cx="496" cy="267" r="14.4"/><circle cx="514" cy="263" r="9.4"/><circle cx="532" cy="260" r="9.4"/><circle cx="546" cy="255" r="11.4"/><circle cx="562" cy="245" r="11.4"/><circle cx="572" cy="230" r="12.4"/><circle cx="573" cy="212" r="11.4"/><circle cx="567" cy="193" r="10.4"/><circle cx="560" cy="181" r="8.4"/><circle cx="540" cy="205" r="20.4"/><circle cx="520" cy="200" r="14.4"/><circle cx="560" cy="222" r="14.4"/><ellipse cx="505" cy="228" rx="62.4" ry="36.4"/></g>
<g filter="url(#b1)">
<g fill="url(#pu)"><circle cx="515" cy="200" r="11"/><circle cx="527" cy="190" r="12"/><circle cx="544" cy="189" r="13"/><circle cx="553" cy="200" r="10"/><circle cx="533" cy="203" r="12"/></g>
<g fill="url(#pl)"><circle cx="441" cy="240" r="7"/><circle cx="452" cy="234" r="10"/><circle cx="466" cy="229" r="11"/><circle cx="482" cy="225" r="13"/><circle cx="497" cy="225" r="13"/><circle cx="508" cy="236" r="9"/><circle cx="450" cy="245" r="6"/><circle cx="464" cy="247" r="7"/><circle cx="480" cy="248" r="7"/><circle cx="496" cy="247" r="7"/><ellipse cx="474" cy="240" rx="36" ry="9"/></g>
<g fill="url(#pr)"><circle cx="522" cy="238" r="7"/><circle cx="533" cy="233" r="9"/><circle cx="545" cy="228" r="9"/><circle cx="558" cy="226" r="9"/><circle cx="568" cy="232" r="8"/><circle cx="548" cy="239" r="8"/><circle cx="535" cy="240" r="7"/></g>
</g>
</g>
<g filter="url(#b05)"><polygon points="600.6,98.5 586.5,119.7 597.5,120.5 597,122.5 590.5,128.5 568,149 581.5,128 571.5,125.5 572.5,124 580.5,119" fill="url(#bolt)" stroke="#b4b440" stroke-width="0.4" stroke-linejoin="round"/></g>
<g filter="url(#b05)">
  <path d="M628.6,63.5 Q631.3,61.8 634,63.5 Q640,76 640.3,89.5 Q632,94 623.6,89.5 Q623.5,76 628.6,63.5 Z" fill="url(#cone)" stroke="#a8a8a8" stroke-width="0.5"/>
  
  <line x1="631.2" y1="46" x2="631.2" y2="63" stroke="#b8b8b8" stroke-width="1.5"/>
  <circle cx="631.2" cy="45.2" r="2.5" fill="#a2a2a2"/>
  <path d="M623.3,40 Q620.6,45.5 623.3,51" stroke="#d0d0d0" stroke-width="1.1" fill="none"/>
  <path d="M626,42 Q624.4,45.5 626,49" stroke="#d8d8d8" stroke-width="0.9" fill="none"/>
  <path d="M639.2,40 Q641.9,45.5 639.2,51" stroke="#d0d0d0" stroke-width="1.1" fill="none"/>
  <path d="M636.4,42 Q638,45.5 636.4,49" stroke="#d8d8d8" stroke-width="0.9" fill="none"/>
</g>
<g filter="url(#b05)">
  <circle cx="659.4" cy="206.6" r="16.3" fill="#3a0c04"/>
  <circle cx="659.4" cy="206.6" r="15.2" fill="#521a0c"/>
  <polygon points="659.8,193.4 652.6,199.8 656.2,201 648.2,214.5 651.5,215.5 659.2,202.1 662.6,203.2" fill="#f8d477"/>
  <polygon points="669.8,198.5 662.6,205 666,206.2 657.5,220.8 660.8,221.6 669,207.3 672.4,208.4" fill="#f8d477"/>
</g>
<g filter="url(#b05)">
  <polygon points="615,397.8 633.3,387.4 647.4,395.6 628.8,404.9" fill="url(#adt)" stroke="#c8c8cc" stroke-width="0.6" stroke-linejoin="round"/>
  <polygon points="615,397.8 628.8,404.9 629.4,409.6 615.3,401.3" fill="#a6a6a8"/>
  <polygon points="628.8,404.9 647.4,395.6 647.6,398.8 629.4,409.6" fill="#8e8e90"/>
  <rect x="616" y="398.6" width="2.5" height="2" fill="#5a5a5c" transform="rotate(28 617 399.6)"/>
  <circle cx="625" cy="404.3" r="0.7" fill="#e07080"/>
</g>
<g filter="url(#b1)">
<use href="#kiosk" transform="translate(696.75 8.25) scale(0.985)"/>
<use href="#kiosk" transform="translate(728.25 164.25)"/>
<use href="#kiosk" transform="translate(696 331.9) scale(1.01)"/>
</g>
<g font-family="Liberation Sans" font-style="italic" fill="#1c1c1c" stroke="#1c1c1c" stroke-width="0.45" filter="url(#b05)">
<text x="457.6" y="313.3" font-size="20.6">Internet</text>
<text x="600" y="114.7" font-size="15.6">3G/4G/Wifi</text>
<text x="635.3" y="244.2" font-size="15.6">Fiber</text>
<text x="605.5" y="428.7" font-size="15.5">ADSL</text>
</g>
</svg>
</body></html>
